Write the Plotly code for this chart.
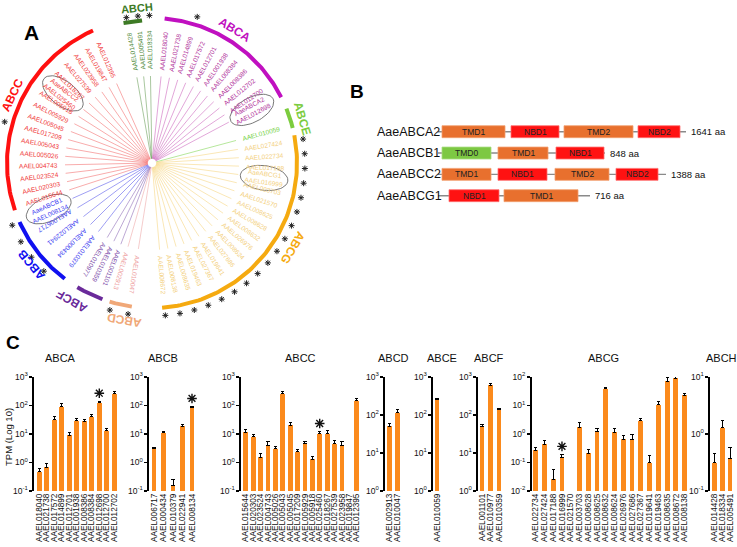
import numpy as np
import plotly.graph_objects as go

W, H = 737, 547
FONT = "Liberation Sans, Arial, sans-serif"

# ======================= DATA =======================
# ---- Panel A: leaves of the ABC transporter tree (clockwise order) ----
abch_leaves = ["AAEL014428", "AAEL005491", "AAEL018334"]
abca_leaves = ["AAEL018040", "AAEL021738", "AAEL014899", "AAEL017572", "AAEL012701",
               "AAEL001938", "AAEL008384", "AAEL008386", "AAEL012702", "AAEL012700", "AAEL012698"]
abce_leaves = ["AAEL010059"]
abcg_leaves = ["AAEL027424", "AAEL022734", "AAEL017188", "AAEL016999", "AAEL003703", "AAEL021570",
               "AAEL008625", "AAEL008628", "AAEL008632", "AAEL026976", "AAEL008624", "AAEL027686",
               "AAEL019641", "AAEL027367", "AAEL019463", "AAEL008635", "AAEL008138", "AAEL008672"]
abcd_leaves = ["AAEL010047", "AAEL002913"]
abcf_leaves = ["AAEL001101", "AAEL010359", "AAEL010977"]
abcb_leaves = ["AAEL010379", "AAEL000434", "AAEL022941", "AAEL006717", "AAEL008134"]
abcc_leaves = ["AAEL015644", "AAEL020303", "AAEL023524", "AAEL004743", "AAEL005026", "AAEL005043",
               "AAEL017209", "AAEL005045", "AAEL005929", "AAEL005918", "AAEL025460", "AAEL018267",
               "AAEL027539", "AAEL023958", "AAEL019847", "AAEL012395"]
starred_leaves = (abch_leaves + ["AAEL014899", "AAEL017209"] + abcg_leaves
                  + abcb_leaves[1:] + abcd_leaves)
named_proteins = {"AAEL012698": "AaeABCA2", "AAEL016999": "AaeABCG1",
                  "AAEL008134": "AaeABCB1", "AAEL025460": "AaeABCC2"}

# ---- Panel B: domain architecture (diagram units) ----
proteins = ["AaeABCA2", "AaeABCB1", "AaeABCC2", "AaeABCG1"]
protein_len_labels = ["1641 aa", "848 aa", "1388 aa", "716 aa"]
backbone_start = [68, 68, 68, 68]
backbone_end = [316, 235, 296, 220]
domain_names = [["TMD1", "NBD1", "TMD2", "NBD2"],
                ["TMD0", "TMD1", "NBD1"],
                ["TMD1", "NBD1", "TMD2", "NBD2"],
                ["NBD1", "TMD1"]]
domain_start = [[72, 141, 194, 268], [72, 128, 186], [72, 128, 185, 246], [79, 134]]
domain_end = [[135, 189, 263, 310], [121, 178, 234], [121, 177, 239, 288], [129, 208]]

# ---- Panel C: TPM expression ----
abca_genes = ["AAEL018040", "AAEL021738", "AAEL017572", "AAEL014899", "AAEL012701", "AAEL001938",
              "AAEL008386", "AAEL008384", "AAEL012698", "AAEL012700", "AAEL012702"]
abca_tpm = [0.48, 0.67, 32, 90, 9.2, 29, 28, 40, 125, 13, 257]
abca_err = [0.12, 0.24, 10, 30, 1.8, 6, 4, 9, 17, 3, 59]

abcb_genes = ["AAEL006717", "AAEL000434", "AAEL010379", "AAEL022941", "AAEL008134"]
abcb_tpm = [3.0, 11, 0.155, 19, 85]
abcb_err = [0.35, 1.2, 0.09, 3, 8]

abcc_genes = ["AAEL015644", "AAEL020303", "AAEL023524", "AAEL004743", "AAEL005026", "AAEL005043",
              "AAEL005045", "AAEL017209", "AAEL005929", "AAEL005918", "AAEL025460", "AAEL018267",
              "AAEL027539", "AAEL023958", "AAEL019847", "AAEL012395"]
abcc_tpm = [11.4, 7.9, 1.52, 4.0, 3.0, 258, 20.4, 2.4, 4.8, 1.3, 10.3, 10.3, 4.5, 3.9, None, 145]
abcc_err = [2.7, 1.6, 0.57, 1.4, 0.6, 60, 4, 0.5, 0.7, 0.3, 2, 2.5, 1.5, 1.4, 0, 33]

abcd_genes = ["AAEL002913", "AAEL010047"]
abcd_tpm = [51, 115]
abcd_err = [9, 23]

abce_genes = ["AAEL010059"]
abce_tpm = [257]
abce_err = [20]

abcf_genes = ["AAEL001101", "AAEL010977", "AAEL010359"]
abcf_tpm = [51, 605, 140]
abcf_err = [5, 90, 10]

abcg_genes = ["AAEL022734", "AAEL027424", "AAEL017188", "AAEL016999", "AAEL021570", "AAEL003703",
              "AAEL008628", "AAEL008625", "AAEL008632", "AAEL008624", "AAEL026976", "AAEL027686",
              "AAEL027367", "AAEL019641", "AAEL019463", "AAEL008635", "AAEL008672", "AAEL008138"]
abcg_tpm = [0.27, 0.44, 0.026, 0.148, None, 1.7, 0.21, 1.23, 38, 1.14, 0.65, 0.65,
            2.9, 0.1, 10.8, 72, 89, 22.6]
abcg_err = [0.06, 0.16, 0.029, 0.045, 0, 0.8, 0.08, 0.37, 4.5, 0.4, 0.25, 0.3,
            0.55, 0.07, 3, 21, 12, 4.5]

abch_genes = ["AAEL014428", "AAEL018334", "AAEL005491"]
abch_tpm = [0.316, 1.3, 0.37]
abch_err = [0.14, 0.4, 0.22]

c_starred = {"ABCA": ["AAEL012698"], "ABCB": ["AAEL008134"],
             "ABCC": ["AAEL025460"], "ABCG": ["AAEL016999"]}

# ======================= STYLE / LAYOUT =======================
BAR = "#fb8a1c"
fig = go.Figure()
annotations = []
shapes = []

# ---------------- Panel A ----------------
CX, CY, RPX = 152, 163, 145          # centre / radius in pixels
A_X0, A_X1, A_Y0, A_Y1 = 0, 370, 0, 330
clades = [
    # name, leaves, leaf span (deg), arc span, arc colour, label colour, branch colour, clade label (theta, r)
    ("ABCH", abch_leaves, (100, 91), (101.5, 94), "#3d7a25", "#4f8a3a", "rgba(80,140,60,0.55)", (95.5, 1.072)),
    ("ABCA", abca_leaves, (84, 28), (85, 27), "#c010c0", "#b0309a", "rgba(190,60,170,0.5)", (58, 1.08)),
    ("ABCE", abce_leaves, (15, 15), (22, 14), "#7ccc3e", "#6fd040", "rgba(120,210,70,0.6)", (16.3, 1.08)),
    ("ABCG", abcg_leaves, (9, -85), (11, -86), "#f5aa10", "#f3d080", "rgba(245,210,120,0.6)", (-31, 1.13)),
    ("ABCD", abcd_leaves, (-99, -106), (-98, -107), "#f0a878", "#eea0a0", "rgba(235,150,150,0.55)", (-100, 1.10)),
    ("ABCF", abcf_leaves, (-111, -121), (-110, -121), "#6a2a9a", "#7a4aa8", "rgba(120,80,170,0.55)", (-120, 1.10)),
    ("ABCB", abcb_leaves, (-128, -156), (-127, -156), "#1010f0", "#3a3af0", "rgba(60,60,230,0.55)", (-140, 1.09)),
    ("ABCC", abcc_leaves, (198, 114), (199, 114), "#ff1010", "#f03a3a", "rgba(240,70,70,0.5)", (154, 1.07)),
]

def pol(r, t):
    return r * np.cos(np.radians(t)), r * np.sin(np.radians(t))

star_x, star_y = [], []
for name, leaves, lspan, aspan, acol, lcol, bcol, (lt, lr) in clades:
    n = len(leaves)
    thetas = [sum(lspan) / 2] if n == 1 else list(np.linspace(lspan[0], lspan[1], n))
    bx, by = [], []
    for t in thetas:
        x0, y0 = pol(0.03, t)
        x1, y1 = pol(0.6, t)
        bx += [x0, x1, None]
        by += [y0, y1, None]
    fig.add_trace(go.Scatter(x=bx, y=by, mode="lines", line=dict(color=bcol, width=0.9),
                             xaxis="x9", yaxis="y9", hoverinfo="skip"))
    ta = np.linspace(aspan[0], aspan[1], 80)
    ax_, ay_ = pol(1.0 if name != "ABCH" else 0.985, ta)
    fig.add_trace(go.Scatter(x=ax_, y=ay_, mode="lines", line=dict(color=acol, width=4),
                             xaxis="x9", yaxis="y9", hoverinfo="skip"))
    x, y = pol(lr, lt)
    annotations.append(dict(x=x, y=y, xref="x9", yref="y9", text="<b>%s</b>" % name,
                            showarrow=False, textangle=90 - lt, xanchor="center", yanchor="middle",
                            font=dict(family=FONT, size=12 if name != "ABCH" else 11, color=acol)))
    for g, t in zip(leaves, thetas):
        tm = t % 360
        ang = 180 - t if 105 < tm < 205 else -t
        ang = (ang + 180) % 360 - 180
        x, y = pol(0.78, t)
        txt = g if g not in named_proteins else named_proteins[g] + "<br>" + g
        annotations.append(dict(x=x, y=y, xref="x9", yref="y9", text=txt, showarrow=False,
                                textangle=ang, xanchor="center", yanchor="middle",
                                font=dict(family=FONT, size=6.5, color=lcol)))
        if g in named_proteins:
            ph = np.linspace(0, 2 * np.pi, 60)
            a, b = 0.165, 0.085
            u = np.radians(t)
            ex = x + a * np.cos(ph) * np.cos(u) - b * np.sin(ph) * np.sin(u)
            ey = y + a * np.cos(ph) * np.sin(u) + b * np.sin(ph) * np.cos(u)
            fig.add_trace(go.Scatter(x=ex, y=ey, mode="lines", line=dict(color="#555", width=0.8),
                                     xaxis="x9", yaxis="y9", hoverinfo="skip"))
        if g in starred_leaves:
            sx, sy = pol(1.055 if name != "ABCH" else 1.018, t)
            star_x.append(sx)
            star_y.append(sy)

fig.add_trace(go.Scatter(x=star_x, y=star_y, mode="markers",
                         marker=dict(symbol="asterisk-open", size=5, color="#222",
                                     line=dict(color="#222", width=1)),
                         xaxis="x9", yaxis="y9", hoverinfo="skip"))

layout_axes = {}
layout_axes["xaxis9"] = dict(domain=[A_X0 / W, A_X1 / W], range=[(A_X0 - CX) / RPX, (A_X1 - CX) / RPX],
                             visible=False, anchor="y9", automargin=False)
layout_axes["yaxis9"] = dict(domain=[1 - A_Y1 / H, 1 - A_Y0 / H], range=[(CY - A_Y1) / RPX, (CY - A_Y0) / RPX],
                             visible=False, anchor="x9", automargin=False)

# ---------------- Panel B ----------------
B_X0 = 370
B_ROW0, B_ROWSTEP = 131.7, 21.33
layout_axes["xaxis10"] = dict(domain=[B_X0 / W, 1], range=[0, W - B_X0], visible=False, anchor="y10",
                              automargin=False)
layout_axes["yaxis10"] = dict(domain=[1 - (B_ROW0 + 3.5 * B_ROWSTEP) / H, 1 - (B_ROW0 - 0.5 * B_ROWSTEP) / H],
                              range=[3.5, -0.5], visible=False, anchor="x10", automargin=False)
fig.add_trace(go.Scatter(x=[0], y=[0], mode="markers", marker=dict(opacity=0), xaxis="x10", yaxis="y10",
                         hoverinfo="skip"))
dom_fill = {"TMD": "#e8702e", "NBD": "#ff1212", "TMD0": "#7dc843"}
dom_edge = {"TMD": "#f2a070", "NBD": "#ff7070", "TMD0": "#a8dc80"}
for r, pname in enumerate(proteins):
    shapes.append(dict(type="line", xref="x10", yref="y10", x0=backbone_start[r], x1=backbone_end[r],
                       y0=r, y1=r, line=dict(color="#8a8a8a", width=1.4), layer="below"))
    annotations.append(dict(x=5, y=r, xref="x10", yref="y10", text=pname, showarrow=False,
                            xanchor="left", yanchor="middle", font=dict(family=FONT, size=12.5, color="#111")))
    annotations.append(dict(x=backbone_end[r] + 3, y=r, xref="x10", yref="y10", text=protein_len_labels[r],
                            showarrow=False, xanchor="left", yanchor="middle",
                            font=dict(family=FONT, size=9.5, color="#111")))
    for dn, d0, d1 in zip(domain_names[r], domain_start[r], domain_end[r]):
        key = "TMD0" if dn == "TMD0" else dn[:3]
        shapes.append(dict(type="rect", xref="x10", yref="y10", x0=d0, x1=d1, y0=r - 0.28, y1=r + 0.28,
                           fillcolor=dom_fill[key], line=dict(color=dom_edge[key], width=0.8)))
        annotations.append(dict(x=(d0 + d1) / 2, y=r, xref="x10", yref="y10", text=dn, showarrow=False,
                                xanchor="center", yanchor="middle",
                                font=dict(family=FONT, size=8.5, color="#222")))

# ---------------- Panel C ----------------
panels = [("ABCA", abca_genes, abca_tpm, abca_err, [-1, 3]),
          ("ABCB", abcb_genes, abcb_tpm, abcb_err, [-1, 3]),
          ("ABCC", abcc_genes, abcc_tpm, abcc_err, [-1, 3]),
          ("ABCD", abcd_genes, abcd_tpm, abcd_err, [0, 3]),
          ("ABCE", abce_genes, abce_tpm, abce_err, [0, 3]),
          ("ABCF", abcf_genes, abcf_tpm, abcf_err, [0, 3]),
          ("ABCG", abcg_genes, abcg_tpm, abcg_err, [-2, 2]),
          ("ABCH", abch_genes, abch_tpm, abch_err, [-1, 1])]
c_axis_px = [34, 149, 241, 385, 433, 478, 531.7, 710]
c_first_px = [39.3, 154, 245.7, 389.7, 437, 482, 535.7, 714.3]
c_step_px = [7.5, 9.5, 7.4, 8.0, 8.0, 8.5, 8.76, 7.85]
c_title_px = [60, 163, 300, 393, 442, 489, 603, 721]
BAR_PX = 4.8
C_TOP, C_BOT, C_TITLE = 377, 491, 358

for i, (name, genes, tpm, err, yr) in enumerate(panels):
    k = i + 1
    xa, ya = ("x", "y") if k == 1 else ("x%d" % k, "y%d" % k)
    n = len(genes)
    fig.add_trace(go.Bar(x=genes, y=tpm, xaxis=xa, yaxis=ya, width=BAR_PX / c_step_px[i],
                         marker=dict(color=BAR, line=dict(width=0)),
                         error_y=dict(type="data", symmetric=False, array=err, arrayminus=[0] * n,
                                      color="black", thickness=1, width=1.6),
                         hoverinfo="skip"))
    if name in c_starred:
        sg = c_starred[name]
        sy = [(tpm[genes.index(g)] + err[genes.index(g)]) * 1.9 for g in sg]
        fig.add_trace(go.Scatter(x=sg, y=sy, mode="markers", xaxis=xa, yaxis=ya,
                                 marker=dict(symbol="asterisk-open", size=8, color="#111",
                                             line=dict(color="#111", width=1.4)), hoverinfo="skip"))
    right = c_first_px[i] + (n - 1 + 0.6) * c_step_px[i]
    layout_axes["xaxis%d" % k] = dict(
        domain=[c_axis_px[i] / W, right / W], type="category",
        range=[(c_axis_px[i] - c_first_px[i]) / c_step_px[i], n - 1 + 0.6],
        tickmode="array", tickvals=genes, ticktext=genes, tickangle=-90,
        tickfont=dict(family=FONT, size=8.2, color="#111"), showline=False, ticks="",
        showgrid=False, zeroline=False, anchor=ya, fixedrange=True, automargin=False)
    tv = [10.0 ** e for e in range(yr[0], yr[1] + 1)]
    tt = ["10<sup>%s</sup>" % (str(e) if e >= 0 else "-%d" % -e) for e in range(yr[0], yr[1] + 1)]
    layout_axes["yaxis%d" % k] = dict(
        domain=[1 - C_BOT / H, 1 - C_TOP / H], type="log", range=yr,
        tickmode="array", tickvals=tv, ticktext=tt,
        tickfont=dict(family=FONT, size=8.5, color="#111"),
        showline=True, linecolor="black", linewidth=1.6, ticks="outside", ticklen=3, tickwidth=1.2,
        tickcolor="black", showgrid=False, zeroline=False, anchor=xa, fixedrange=True, automargin=False)
    annotations.append(dict(x=c_title_px[i] / W, y=1 - C_TITLE / H, xref="paper", yref="paper",
                            text=name, showarrow=False, xanchor="center", yanchor="middle",
                            font=dict(family=FONT, size=11, color="#111")))

annotations.append(dict(x=8 / W, y=1 - 437 / H, xref="paper", yref="paper", text="TPM (Log 10)",
                        textangle=-90, showarrow=False, xanchor="center", yanchor="middle",
                        font=dict(family=FONT, size=9.5, color="#111")))

for letter, px, py, sz in [("A", 32, 32, 21), ("B", 357, 92, 19), ("C", 13, 342, 19)]:
    annotations.append(dict(x=px / W, y=1 - py / H, xref="paper", yref="paper", text="<b>%s</b>" % letter,
                            showarrow=False, xanchor="center", yanchor="middle",
                            font=dict(family=FONT, size=sz, color="black")))

fig.update_layout(width=W, height=H, margin=dict(l=0, r=0, t=0, b=0, pad=0), showlegend=False,
                  paper_bgcolor="white", plot_bgcolor="white", annotations=annotations, shapes=shapes,
                  bargap=0, hovermode=False, **layout_axes)
fig.write_html("out.html", config={"displayModeBar": False, "staticPlot": True},
               post_script="document.body.style.margin='0px';document.body.style.padding='0px';")
